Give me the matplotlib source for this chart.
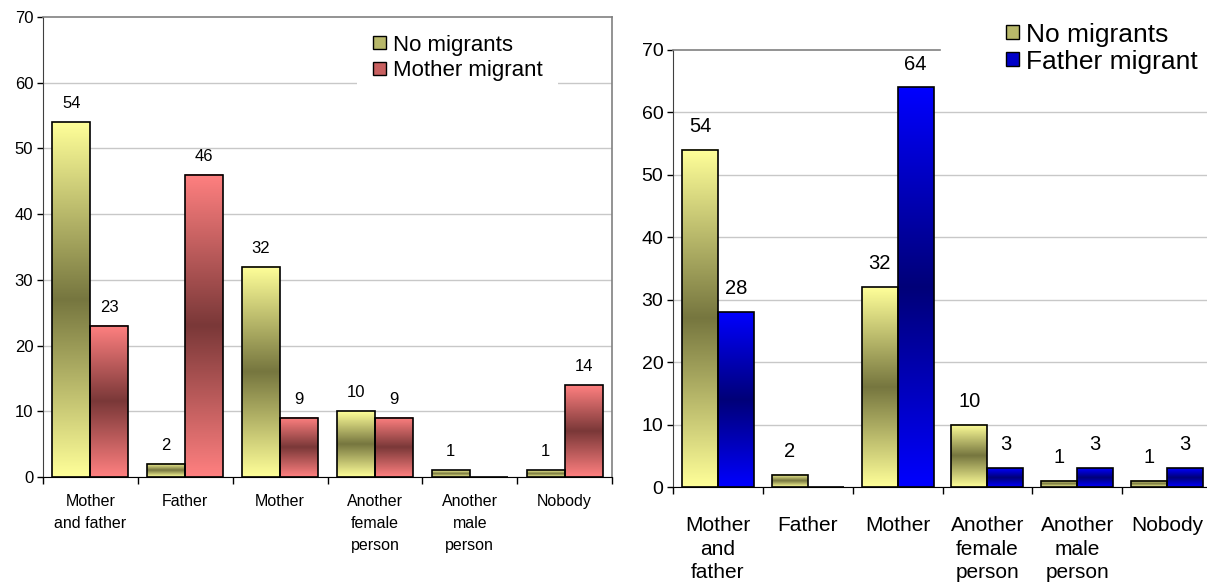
import matplotlib.pyplot as plt
import numpy as np
from matplotlib.colors import LinearSegmentedColormap
from matplotlib.patches import Patch

plt.rcParams['font.family'] = ['Liberation Sans', 'DejaVu Sans']

# data
cats_left = ['Mother\nand father', 'Father', 'Mother', 'Another\nfemale\nperson',
             'Another\nmale\nperson', 'Nobody']
cats_right = ['Mother\nand\nfather', 'Father', 'Mother', 'Another\nfemale\nperson',
              'Another\nmale\nperson', 'Nobody']
no_migrants = [54, 2, 32, 10, 1, 1]
mother_migrant = [23, 46, 9, 9, 0, 14]
father_migrant = [28, 0, 64, 3, 3, 3]
yticks = [0, 10, 20, 30, 40, 50, 60, 70]

W, H = 1207, 583
fig = plt.figure(figsize=(W / 100, H / 100), dpi=100)

yellow = LinearSegmentedColormap.from_list('y', ['#FFFF99', '#76763F', '#FFFF99'])
red = LinearSegmentedColormap.from_list('r', ['#FF8080', '#7A3838', '#FF8080'])
blue = LinearSegmentedColormap.from_list('b', ['#0000FF', '#000078', '#0000FF'])
grad = np.linspace(0, 1, 256).reshape(-1, 1)


def px_axes(x0, y0, x1, y1):
    # pixel box (top-left origin) -> figure axes
    return fig.add_axes([x0 / W, 1 - y1 / H, (x1 - x0) / W, (y1 - y0) / H])


def gradient_bars(ax, x, vals, w, cmap):
    bars = ax.bar(x, vals, w, facecolor='none', edgecolor='black', lw=1.2, zorder=3)
    for b in bars:
        h = b.get_height()
        if h <= 0:
            continue
        x0 = b.get_x()
        ax.imshow(grad, cmap=cmap, extent=[x0, x0 + b.get_width(), 0, h],
                  aspect='auto', origin='lower', zorder=2, interpolation='bilinear')
    return bars


def draw(ax, cats, series2, cmap2, fs_tick, fs_cat, fs_val, cat_ls, val_off, cat_pad):
    n = len(cats)
    x = np.arange(n)
    w = 0.4
    gradient_bars(ax, x - w / 2, no_migrants, w, yellow)
    gradient_bars(ax, x + w / 2, series2, w, cmap2)
    for xi, v in zip(x - w / 2, no_migrants):
        if v:
            ax.annotate(str(v), (xi, v), xytext=(0, val_off), textcoords='offset points',
                        ha='center', va='bottom', fontsize=fs_val)
    for xi, v in zip(x + w / 2, series2):
        if v:
            ax.annotate(str(v), (xi, v), xytext=(0, val_off), textcoords='offset points',
                        ha='center', va='bottom', fontsize=fs_val)
    ax.set_xlim(-0.5, n - 0.5)
    ax.set_ylim(0, 70)
    ax.set_yticks(yticks)
    ax.tick_params(axis='y', labelsize=fs_tick, length=4, width=1, direction='out', pad=3)
    ax.set_xticks(x)
    ax.set_xticklabels(cats, fontsize=fs_cat, linespacing=cat_ls)
    ax.tick_params(axis='x', length=0, pad=cat_pad)
    ax.set_xticks(np.arange(n + 1) - 0.5, minor=True)
    ax.tick_params(axis='x', which='minor', length=5, width=1, direction='out')
    ax.yaxis.grid(True, color='#C8C8C8', lw=1)
    ax.get_ygridlines()[-1].set_visible(False)  # top border sits there
    ax.set_axisbelow(True)
    for s in ['top', 'right']:
        ax.spines[s].set_color('#808080')
        ax.spines[s].set_linewidth(1.2)
    ax.spines['left'].set_color('#404040')
    ax.spines['bottom'].set_color('black')


ax1 = px_axes(43, 17, 612, 477)
draw(ax1, cats_left, mother_migrant, red, 12, 11.5, 12, 1.6, 8, 12)
leg1 = ax1.legend(handles=[Patch(facecolor='#B8B86A', edgecolor='black', lw=1),
                           Patch(facecolor='#C86060', edgecolor='black', lw=1)],
                  labels=['No migrants', 'Mother migrant'],
                  loc='upper left', bbox_to_anchor=(357 / W, 1 - 19 / H),
                  bbox_transform=fig.transFigure, fontsize=16, frameon=True,
                  facecolor='white', edgecolor='none', framealpha=1, fancybox=False,
                  handlelength=0.6, handleheight=0.52, handletextpad=0.3,
                  labelspacing=0.2, borderpad=0.7, borderaxespad=0)

ax2 = px_axes(673, 50, 1212, 487)
draw(ax2, cats_right, father_migrant, blue, 14, 15, 14.5, 1.3, 10, 21)
# the legend box in the reference hides the top border from x=940 on
ax2.spines['top'].set_bounds(-0.5, (940 - 673) / 539 * 6 - 0.5)
ax2.spines['right'].set_visible(False)
leg2 = ax2.legend(handles=[Patch(facecolor='#B8B86A', edgecolor='black', lw=1),
                           Patch(facecolor='#0000C8', edgecolor='black', lw=1)],
                  labels=['No migrants', 'Father migrant'],
                  loc='upper right', bbox_to_anchor=(1 - 7 / W, 1 - 20 / H),
                  bbox_transform=fig.transFigure, fontsize=19, frameon=True,
                  facecolor='white', edgecolor='none', framealpha=1, fancybox=False,
                  handlelength=0.5, handleheight=0.45, handletextpad=0.25,
                  labelspacing=0.12, borderpad=0.1, borderaxespad=0)

fig.savefig('out.png', dpi=100)
